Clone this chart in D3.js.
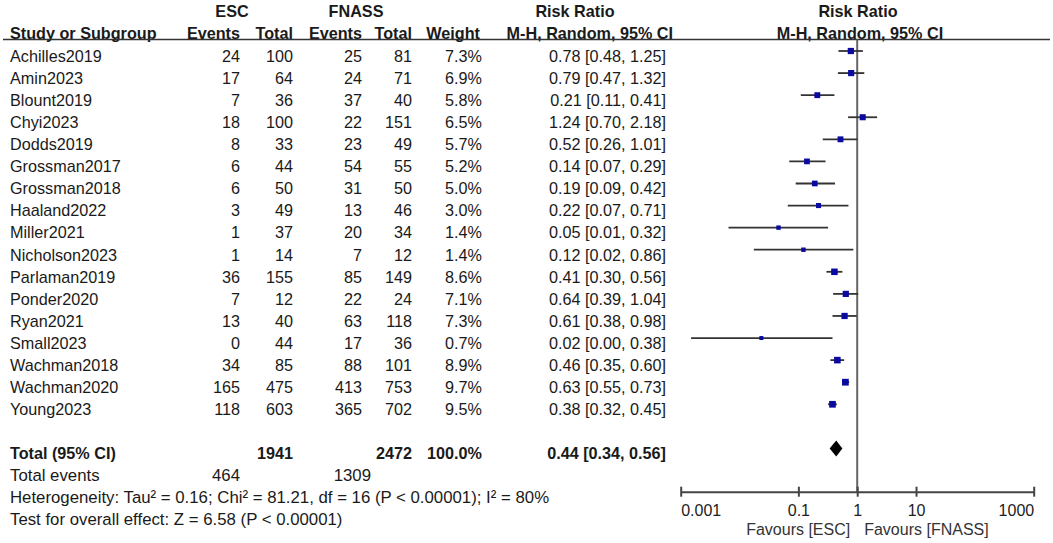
<!DOCTYPE html>
<html>
<head>
<meta charset="utf-8">
<script src="https://cdn.jsdelivr.net/npm/d3@7"></script>
<style>
    body { margin: 0; background: #fff; }
    svg { font-family: "Liberation Sans", Arial, sans-serif; }
</style>
</head>
<body>
<svg id="forest" width="1053" height="543"></svg>
<script>
// Study table
const studies = ["Achilles2019", "Amin2023", "Blount2019", "Chyi2023", "Dodds2019", "Grossman2017",
    "Grossman2018", "Haaland2022", "Miller2021", "Nicholson2023", "Parlaman2019", "Ponder2020",
    "Ryan2021", "Small2023", "Wachman2018", "Wachman2020", "Young2023"];
const escEvents = [24, 17, 7, 18, 8, 6, 6, 3, 1, 1, 36, 7, 13, 0, 34, 165, 118];
const escTotal = [100, 64, 36, 100, 33, 44, 50, 49, 37, 14, 155, 12, 40, 44, 85, 475, 603];
const fnassEvents = [25, 24, 37, 22, 23, 54, 31, 13, 20, 7, 85, 22, 63, 17, 88, 413, 365];
const fnassTotal = [81, 71, 40, 151, 49, 55, 50, 46, 34, 12, 149, 24, 118, 36, 101, 753, 702];
const weights = [7.3, 6.9, 5.8, 6.5, 5.7, 5.2, 5.0, 3.0, 1.4, 1.4, 8.6, 7.1, 7.3, 0.7, 8.9, 9.7, 9.5];

const riskRatio = [0.78, 0.79, 0.21, 1.24, 0.52, 0.14, 0.19, 0.22, 0.046, 0.122, 0.41, 0.64, 0.61, 0.0235, 0.46, 0.63, 0.38];
const ciLow = [0.48, 0.47, 0.11, 0.70, 0.26, 0.07, 0.09, 0.066, 0.0065, 0.0175, 0.30, 0.39, 0.38, 0.0015, 0.35, 0.55, 0.32];
const ciHigh = [1.25, 1.32, 0.41, 2.18, 1.01, 0.29, 0.42, 0.71, 0.32, 0.86, 0.56, 1.04, 0.98, 0.38, 0.60, 0.73, 0.45];
const ciLabels = ["0.78 [0.48, 1.25]", "0.79 [0.47, 1.32]", "0.21 [0.11, 0.41]", "1.24 [0.70, 2.18]",
    "0.52 [0.26, 1.01]", "0.14 [0.07, 0.29]", "0.19 [0.09, 0.42]", "0.22 [0.07, 0.71]",
    "0.05 [0.01, 0.32]", "0.12 [0.02, 0.86]", "0.41 [0.30, 0.56]", "0.64 [0.39, 1.04]",
    "0.61 [0.38, 0.98]", "0.02 [0.00, 0.38]", "0.46 [0.35, 0.60]", "0.63 [0.55, 0.73]", "0.38 [0.32, 0.45]"];

// Pooled result
const pooledRR = [0.44, 0.34, 0.56];  // estimate, low, high
const totalRow = ["Total (95% CI)", "", "1941", "", "2472", "100.0%", "0.44 [0.34, 0.56]"];
const totalEvents = ["464", "1309"];
const footnotes = ["Heterogeneity: Tau\u00b2 = 0.16; Chi\u00b2 = 81.21, df = 16 (P < 0.00001); I\u00b2 = 80%",
    "Test for overall effect: Z = 6.58 (P < 0.00001)"];

const axisTicks = [0.001, 0.1, 1, 10, 1000];
const favourLabels = ["Favours [ESC]", "Favours [FNASS]"];

function drawForest(svgSelector) {
    const svg = d3.select(svgSelector);
    const textColor = "#1a1a1a";
    const fontSize = 16.2;
    const rowH = 22.08;
    const firstRow = 56;
    const rowY = i => firstRow + i * rowH;
    const base = 5.8; // from text middle to baseline
    const left = 10;

    // column right edges
    const colX = {events1: 240, total1: 293, events2: 362, total2: 412, weight: 482, ci: 666};

    function txt(x, y, s, anchor, bold, size) {
        return svg.append("text")
            .attr("x", x)
            .attr("y", y + base)
            .attr("text-anchor", anchor || "start")
            .attr("font-size", (size || fontSize) + "px")
            .attr("font-weight", bold ? "bold" : "normal")
            .attr("fill", textColor)
            .text(s);
    }

    // Header
    txt(232, 10.7, "ESC", "middle", true);
    txt(356, 10.7, "FNASS", "middle", true);
    txt(575, 10.7, "Risk Ratio", "middle", true);
    txt(858, 10.7, "Risk Ratio", "middle", true);
    txt(left, 32.7, "Study or Subgroup", "start", true);
    txt(colX.events1, 32.7, "Events", "end", true);
    txt(colX.total1, 32.7, "Total", "end", true);
    txt(colX.events2, 32.7, "Events", "end", true);
    txt(colX.total2, 32.7, "Total", "end", true);
    txt(480, 32.7, "Weight", "end", true);
    txt(673, 32.7, "M-H, Random, 95% CI", "end", true);
    txt(860, 32.7, "M-H, Random, 95% CI", "middle", true);

    svg.append("line")
        .attr("x1", 3).attr("x2", 1050)
        .attr("y1", 39.5).attr("y2", 39.5)
        .attr("stroke", "#333").attr("stroke-width", 1.5);

    // Study rows
    studies.forEach((s, i) => {
        const y = rowY(i);
        txt(left, y, s);
        txt(colX.events1, y, escEvents[i], "end");
        txt(colX.total1, y, escTotal[i], "end");
        txt(colX.events2, y, fnassEvents[i], "end");
        txt(colX.total2, y, fnassTotal[i], "end");
        txt(colX.weight, y, weights[i].toFixed(1) + "%", "end");
        txt(colX.ci, y, ciLabels[i], "end");
    });

    // Total rows
    const yTotal = rowY(18);
    txt(left, yTotal, totalRow[0], "start", true);
    txt(colX.total1, yTotal, totalRow[2], "end", true);
    txt(colX.total2, yTotal, totalRow[4], "end", true);
    txt(colX.weight, yTotal, totalRow[5], "end", true);
    txt(colX.ci, yTotal, totalRow[6], "end", true);
    const footSize = 16.8;
    txt(left, rowY(19), "Total events", "start", false, footSize);
    txt(colX.events1, rowY(19), totalEvents[0], "end", false, footSize);
    txt(colX.events2 + 9, rowY(19), totalEvents[1], "end", false, footSize);
    txt(left, rowY(20), footnotes[0], "start", false, footSize);
    txt(left, rowY(21), footnotes[1], "start", false, footSize);

    // Plot
    const x = d3.scaleLog().domain([0.001, 1000]).range([680.7, 1033.7]);
    const axisY = 491.7;
    const plotShift = -5;

    // line of no effect
    svg.append("line")
        .attr("x1", x(1)).attr("x2", x(1))
        .attr("y1", 39.5).attr("y2", axisY)
        .attr("stroke", "#666").attr("stroke-width", 2);

    const g = svg.append("g");
    g.selectAll(".ci")
        .data(studies)
        .enter().append("line")
        .attr("class", "ci")
        .attr("x1", (d, i) => x(ciLow[i]))
        .attr("x2", (d, i) => x(ciHigh[i]))
        .attr("y1", (d, i) => rowY(i) + plotShift)
        .attr("y2", (d, i) => rowY(i) + plotShift)
        .attr("stroke", "#333")
        .attr("stroke-width", 1.8);

    const side = w => 3 + Math.sqrt(w) * 1.2;
    g.selectAll(".box")
        .data(studies)
        .enter().append("rect")
        .attr("class", "box")
        .attr("x", (d, i) => x(riskRatio[i]) - side(weights[i]) / 2)
        .attr("y", (d, i) => rowY(i) + plotShift - side(weights[i]) / 2)
        .attr("width", (d, i) => side(weights[i]))
        .attr("height", (d, i) => side(weights[i]))
        .attr("fill", "#0a0aa0");

    // Pooled diamond
    const yd = yTotal + plotShift;
    g.append("path")
        .attr("d", `M${x(pooledRR[1])},${yd} L${x(pooledRR[0])},${yd - 8} L${x(pooledRR[2])},${yd} L${x(pooledRR[0])},${yd + 8} Z`)
        .attr("fill", "#000");

    // Axis
    const xAxis = d3.axisBottom(x)
        .tickValues(axisTicks)
        .tickFormat(d3.format("~g"))
        .tickSizeInner(10)
        .tickSizeOuter(0)
        .tickPadding(8);
    const ax = svg.append("g")
        .attr("transform", `translate(0,${axisY})`)
        .call(xAxis);
    ax.select(".domain").attr("stroke", "#444").attr("stroke-width", 2);
    ax.selectAll(".tick line").attr("y1", -5).attr("y2", 5).attr("stroke", "#444").attr("stroke-width", 2);
    ax.selectAll(".tick text")
        .attr("y", 18.3)
        .attr("dy", "0.35em")
        .attr("font-size", "16px")
        .attr("font-family", "Liberation Sans, Arial, sans-serif")
        .attr("fill", "#222")
        .attr("text-anchor", (d, i) => i === 0 ? "start" : (i === axisTicks.length - 1 ? "end" : "middle"));

    svg.append("text")
        .attr("x", x(1) - 7).attr("y", 529 + base)
        .attr("text-anchor", "end").attr("font-size", "16px").attr("fill", "#333")
        .text(favourLabels[0]);
    svg.append("text")
        .attr("x", x(1) + 7).attr("y", 529 + base)
        .attr("text-anchor", "start").attr("font-size", "16px").attr("fill", "#333")
        .text(favourLabels[1]);
}

drawForest("#forest");
</script>
</body>
</html>
